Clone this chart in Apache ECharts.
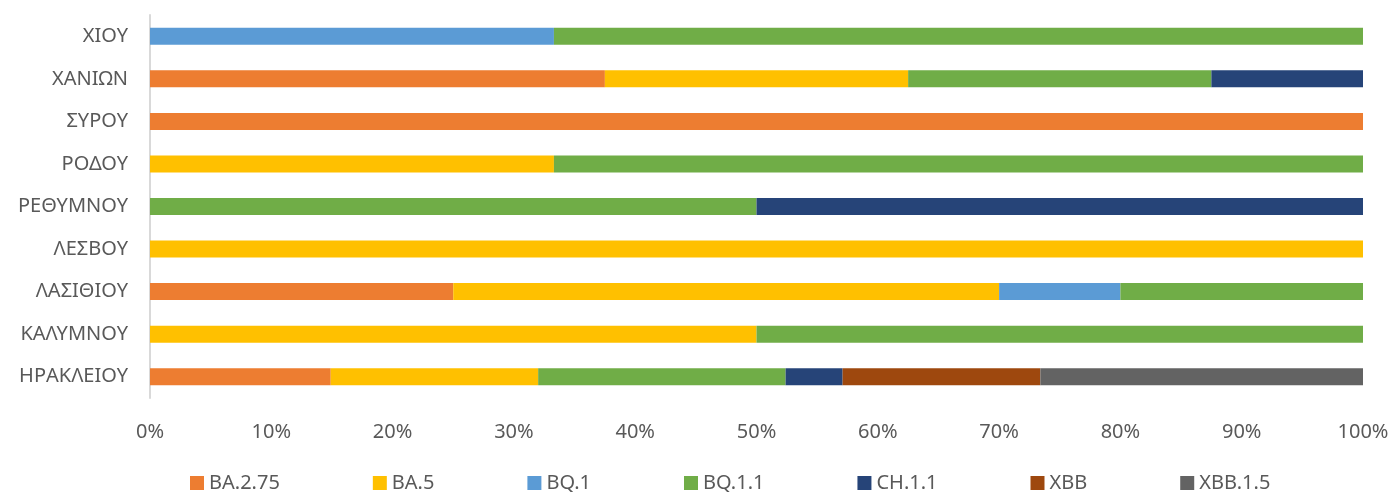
<!DOCTYPE html>
<html>
<head>
<meta charset="utf-8">
<script src="https://cdn.jsdelivr.net/npm/echarts@6/dist/echarts.min.js"></script>
<style>
html, body { margin: 0; padding: 0; background: #fff; }
#main { width: 1392px; height: 494px; }
</style>
</head>
<body>
<div id="main"></div>
<script>
var myChart = echarts.init(document.getElementById('main'));

// regions, bottom to top as the y axis draws them
var regions = ['ΗΡΑΚΛΕΙΟΥ', 'ΚΑΛΥΜΝΟΥ', 'ΛΑΣΙΘΙΟΥ', 'ΛΕΣΒΟΥ', 'ΡΕΘΥΜΝΟΥ', 'ΡΟΔΟΥ', 'ΣΥΡΟΥ', 'ΧΑΝΙΩΝ', 'ΧΙΟΥ'];
var variants = ['BA.2.75', 'BA.5', 'BQ.1', 'BQ.1.1', 'CH.1.1', 'XBB', 'XBB.1.5'];
var colors = ['#ED7D31', '#FFC000', '#5B9BD5', '#70AD47', '#264478', '#9E480E', '#636363'];

// share (%) of each variant per region
var ba275  = [14.9, 0, 25, 0, 0, 0, 100, 37.5, 0];
var ba5    = [17.1, 50, 45, 100, 0, 33.3, 0, 25, 0];
var bq1    = [0, 0, 10, 0, 0, 0, 0, 0, 33.3];
var bq11   = [20.4, 50, 20, 0, 50, 66.7, 0, 25, 66.7];
var ch11   = [4.7, 0, 0, 0, 50, 0, 0, 12.5, 0];
var xbb    = [16.3, 0, 0, 0, 0, 0, 0, 0, 0];
var xbb15  = [26.6, 0, 0, 0, 0, 0, 0, 0, 0];

var values = [ba275, ba5, bq1, bq11, ch11, xbb, xbb15];

var font = 'Noto Sans';

var series = [];
for (var i = 0; i < variants.length; i++) {
    series.push({
        name: variants[i],
        type: 'bar',
        stack: 'total',
        barWidth: 17,
        data: values[i],
        itemStyle: { color: colors[i] }
    });
}

option = {
    animation: false,
    textStyle: { fontFamily: font },
    grid: {
        left: 150,
        right: 29,
        top: 15,
        bottom: 96
    },
    legend: {
        data: variants,
        left: 185,
        top: 468,
        itemWidth: 14,
        itemHeight: 14,
        itemGap: 93,
        icon: 'rect',
        textStyle: { color: '#595959', fontSize: 20, fontFamily: font }
    },
    xAxis: {
        type: 'value',
        min: 0,
        max: 100,
        interval: 10,
        axisLine: { show: false },
        axisTick: { show: false },
        splitLine: { show: false },
        axisLabel: {
            formatter: '{value}%',
            color: '#595959',
            fontSize: 20,
            margin: 24
        }
    },
    yAxis: {
        type: 'category',
        data: regions,
        axisLine: { show: true, lineStyle: { color: '#d9d9d9', width: 2 } },
        axisTick: { show: false },
        axisLabel: {
            color: '#595959',
            fontSize: 20,
            margin: 22
        }
    },
    series: series
};

myChart.setOption(option);
</script>
</body>
</html>
